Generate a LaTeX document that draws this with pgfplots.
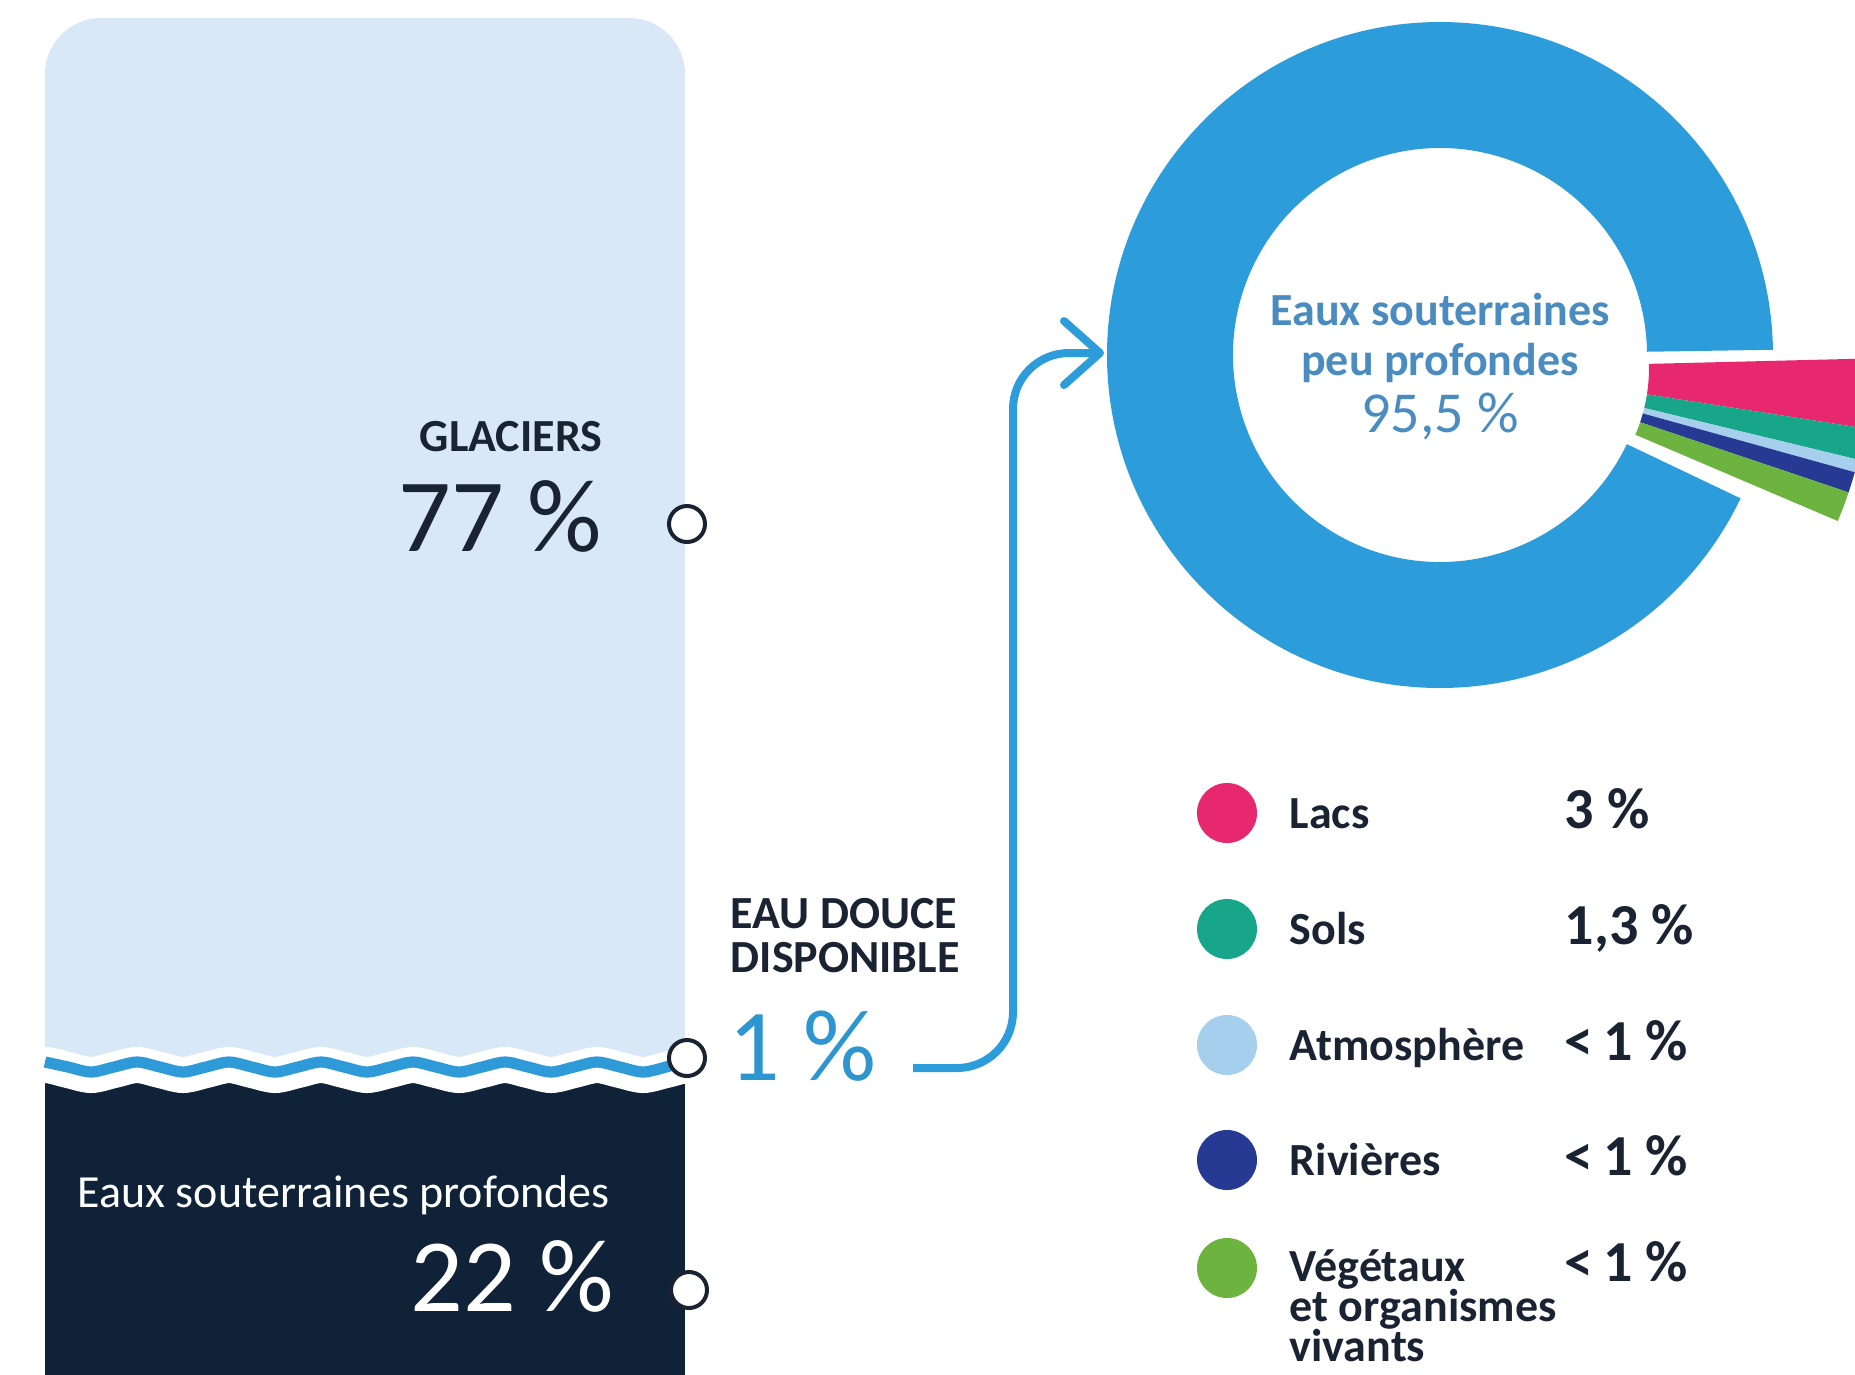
\documentclass[border=0pt]{standalone}
\usepackage{fontspec}
\setmainfont{Carlito}
\usepackage{pgfplots}
\pgfplotsset{compat=1.18}
\definecolor{lightbar}{HTML}{D8E8F6}
\definecolor{darkbar}{HTML}{0F2237}
\definecolor{wblue}{HTML}{2E9AD8}
\definecolor{dblue}{HTML}{2D9CDB}
\definecolor{tdark}{HTML}{1A2332}
\definecolor{pblue}{HTML}{2D95D0}
\definecolor{cblue}{HTML}{4A8CC0}
\definecolor{cpink}{HTML}{E8286E}
\definecolor{cteal}{HTML}{17A689}
\definecolor{clb}{HTML}{A6CFEE}
\definecolor{cnavy}{HTML}{263A93}
\definecolor{clime}{HTML}{6CB33F}
\newcommand{\fs}[1]{\fontsize{#1}{#1}\selectfont}
% donut slice: colour, centre x, centre y, start angle, end angle, outer r, inner r
\newcommand{\slice}[7]{%
  \fill[#1, shift={(axis cs:#2,#3)}] (#4:#6) arc[start angle=#4, end angle=#5, radius=#6]
     -- (#5:#7) arc[start angle=#5, end angle=#4, radius=#7] -- cycle;}
\begin{document}
\begin{tikzpicture}
\begin{axis}[name=ax, at={(0,0)}, anchor=south west,
  x=0.25pt, y=0.25pt, xmin=0, xmax=1855, ymin=0, ymax=1374,
  y dir=reverse, hide axis, clip=true]
% ---------- left column: 77 % / 1 % / 22 %
\fill[lightbar, rounded corners=14pt] (axis cs:45,18) rectangle (axis cs:685,1300);
\fill[darkbar] (axis cs:45,1070) rectangle (axis cs:685,1420);
\addplot[white, line width=9pt, smooth, no marks] coordinates {
 (22,1070) (45,1065) (68,1070) (91,1075) (114,1070) (137,1065) (160,1070) (183,1075)
 (206,1070) (229,1065) (252,1070) (275,1075) (298,1070) (321,1065) (344,1070) (367,1075)
 (390,1070) (413,1065) (436,1070) (459,1075) (482,1070) (505,1065) (528,1070) (551,1075)
 (574,1070) (597,1065) (620,1070) (643,1075) (666,1070) (689,1065) (712,1070)};
\addplot[wblue, line width=2.8pt, smooth, no marks] coordinates {
 (45,1062) (68,1067) (91,1072) (114,1067) (137,1062) (160,1067) (183,1072)
 (206,1067) (229,1062) (252,1067) (275,1072) (298,1067) (321,1062) (344,1067) (367,1072)
 (390,1067) (413,1062) (436,1067) (459,1072) (482,1067) (505,1062) (528,1067) (551,1072)
 (574,1067) (597,1062) (620,1067) (643,1072) (666,1067) (689,1060)};
\addplot[only marks, mark=*, mark size=4.5pt,
  mark options={draw=tdark, fill=white, line width=1pt}]
  coordinates {(687,524) (687,1058) (689,1290)};
% ---------- connector
\draw[dblue, line width=2pt, rounded corners=14pt]
  (axis cs:913,1068) -- (axis cs:1013,1068) -- (axis cs:1013,353) -- (axis cs:1096,353);
\draw[dblue, line width=2pt, line cap=round, line join=round]
  (axis cs:1064,321) -- (axis cs:1100,353) -- (axis cs:1064,385);
% ---------- donut: 95,5 % and the exploded small shares
\slice{dblue}{1440}{355}{0.9}{334.5}{83.25pt}{51.75pt}
\slice{cpink}{1479}{368}{1.4}{-8.9}{97.5pt}{42.5pt}
\slice{cteal}{1479}{368}{-8.9}{-13.6}{97.5pt}{42.5pt}
\slice{clb}{1479}{368}{-13.6}{-15.5}{97.5pt}{42.5pt}
\slice{cnavy}{1479}{368}{-15.5}{-18.6}{97.5pt}{42.5pt}
\slice{clime}{1479}{368}{-18.6}{-23.1}{97.5pt}{42.5pt}
% ---------- legend markers
\addplot[only marks, mark=*, mark size=7.3pt, color=cpink] coordinates {(1227,813)};
\addplot[only marks, mark=*, mark size=7.3pt, color=cteal] coordinates {(1227,929)};
\addplot[only marks, mark=*, mark size=7.3pt, color=clb] coordinates {(1227,1045)};
\addplot[only marks, mark=*, mark size=7.3pt, color=cnavy] coordinates {(1227,1160)};
\addplot[only marks, mark=*, mark size=7.3pt, color=clime] coordinates {(1227,1268)};
% ---------- texts
\node[anchor=base east, inner sep=0, font=\bfseries\fs{11.5}, text=tdark] at (axis cs:603,451) {GLACIERS};
\node[anchor=base east, inner sep=0, font=\fs{26}, text=tdark] at (axis cs:603,551) {77 \%};
\node[anchor=base west, inner sep=0, font=\fs{11.5}, text=white] at (axis cs:77,1207) {Eaux souterraines profondes};
\node[anchor=base east, inner sep=0, font=\fs{26}, text=white] at (axis cs:615,1311) {22 \%};
\node[anchor=base west, inner sep=0, font=\bfseries\fs{11.5}, text=tdark] at (axis cs:730,928) {EAU DOUCE};
\node[anchor=base west, inner sep=0, font=\bfseries\fs{11.5}, text=tdark] at (axis cs:730,972) {DISPONIBLE};
\node[anchor=base west, inner sep=0, font=\fs{25.5}, text=pblue] at (axis cs:728,1080) {1 \%};
\node[anchor=base, inner sep=0, font=\bfseries\fs{11.5}, text=cblue] at (axis cs:1440,325) {Eaux souterraines};
\node[anchor=base, inner sep=0, font=\bfseries\fs{11.5}, text=cblue] at (axis cs:1440,375) {peu profondes};
\node[anchor=base, inner sep=0, font=\fs{14.5}, text=cblue] at (axis cs:1440,432) {95,5 \%};
\begin{scope}[every node/.style={anchor=base west, inner sep=0, text=tdark}]
\node[font=\bfseries\fs{11.5}] at (axis cs:1289,828) {Lacs};
\node[font=\bfseries\fs{11.5}] at (axis cs:1289,944) {Sols};
\node[font=\bfseries\fs{11.5}] at (axis cs:1289,1060) {Atmosphère};
\node[font=\bfseries\fs{11.5}] at (axis cs:1289,1175) {Rivières};
\node[font=\bfseries\fs{11.5}] at (axis cs:1289,1281) {Végétaux};
\node[font=\bfseries\fs{11.5}] at (axis cs:1289,1321) {et organismes};
\node[font=\bfseries\fs{11.5}] at (axis cs:1289,1361) {vivants};
\node[font=\bfseries\fs{14.5}] at (axis cs:1564,828) {3 \%};
\node[font=\bfseries\fs{14.5}] at (axis cs:1564,944) {1,3 \%};
\node[font=\bfseries\fs{14.5}] at (axis cs:1564,1060) {<\,1 \%};
\node[font=\bfseries\fs{14.5}] at (axis cs:1564,1175) {<\,1 \%};
\node[font=\bfseries\fs{14.5}] at (axis cs:1564,1281) {<\,1 \%};
\end{scope}
\end{axis}
\pgfresetboundingbox
\path[use as bounding box] (ax.south west) rectangle (ax.north east);
\end{tikzpicture}
\end{document}
